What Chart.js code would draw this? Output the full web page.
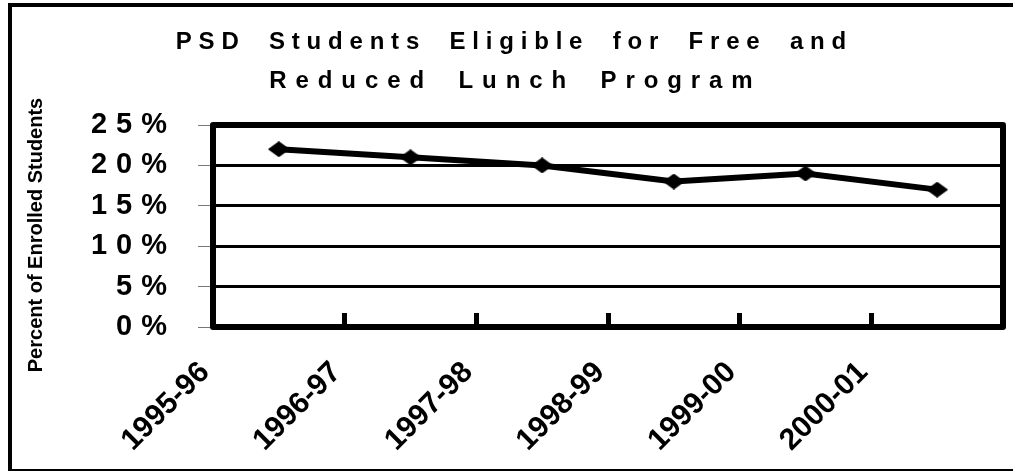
<!DOCTYPE html>
<html>
<head>
<meta charset="utf-8">
<script src="https://cdn.jsdelivr.net/npm/chart.js@4.4.1/dist/chart.umd.min.js"></script>
<style>
  html, body { margin: 0; padding: 0; background: #fff; }
</style>
</head>
<body>
<canvas id="myChart" width="1013" height="471"></canvas>
<script>
// Datos de la grafica
const categories = ['1995-96', '1996-97', '1997-98', '1998-99', '1999-00', '2000-01'];
const eligible = [22, 21, 20, 18, 19, 17];
const yTicks = [0, 5, 10, 15, 20, 25];
const titleLines = ['PSD Students Eligible for Free and', 'Reduced Lunch Program'];
const yTitle = 'Percent of Enrolled Students';

const FONT = '"Liberation Sans", Arial, sans-serif';

// escala lineal con letras espaciadas (etiquetas "2 5 %")
class SpacedLinearScale extends Chart.LinearScale {
  drawLabels(chartArea) {
    const ctx = this.ctx;
    ctx.save();
    ctx.letterSpacing = '9px';
    super.drawLabels(chartArea);
    ctx.restore();
  }
  // el titulo del eje va un poco mas abajo que el centro
  drawTitle() {
    const ctx = this.ctx;
    ctx.save();
    ctx.translate(0, 9);
    super.drawTitle();
    ctx.restore();
  }
}
SpacedLinearScale.id = 'spacedLinear';
SpacedLinearScale.defaults = Chart.LinearScale.defaults;
Chart.register(SpacedLinearScale);

// marcador rombo (mas ancho que alto)
const diamond = document.createElement('canvas');
diamond.width = 22;
diamond.height = 16;
const dctx = diamond.getContext('2d');
dctx.beginPath();
dctx.moveTo(0, 8);
dctx.lineTo(11, 0);
dctx.lineTo(22, 8);
dctx.lineTo(11, 16);
dctx.closePath();
dctx.fill();

// marco exterior + fondo blanco
const outerFrame = {
  id: 'outerFrame',
  beforeDraw(chart) {
    const ctx = chart.ctx;
    ctx.save();
    ctx.fillStyle = '#fff';
    ctx.fillRect(0, 0, chart.width, chart.height);
    ctx.strokeStyle = '#000';
    ctx.lineWidth = 4;
    ctx.strokeRect(10, 5, chart.width + 10, chart.height - 5);
    ctx.restore();
  },
};

// marco grueso del area de la grafica
const plotFrame = {
  id: 'plotFrame',
  beforeDatasetsDraw(chart) {
    const {ctx, chartArea: a} = chart;
    ctx.save();
    ctx.strokeStyle = '#000';
    ctx.lineWidth = 6;
    ctx.lineJoin = 'round';
    ctx.strokeRect(a.left, a.top, a.right - a.left, a.bottom - a.top);
    ctx.restore();
  },
};

// titulo con letras espaciadas (cada linea con su espaciado)
const titleSpacing = [6.8, 8.9];
const spacedTitle = {
  id: 'spacedTitle',
  afterDraw(chart) {
    const ctx = chart.ctx;
    ctx.save();
    ctx.font = 'bold 24px ' + FONT;
    ctx.wordSpacing = '10px';
    ctx.fillStyle = '#000';
    ctx.textAlign = 'center';
    ctx.textBaseline = 'alphabetic';
    titleLines.forEach((line, i) => {
      ctx.letterSpacing = titleSpacing[i] + 'px';
      ctx.fillText(line, 511 + titleSpacing[i] / 2, 49 + i * 38.5);
    });
    ctx.restore();
  },
};

const data = {
  labels: categories,
  datasets: [{
    label: 'Eligible',
    data: eligible,
    borderColor: '#000',
    backgroundColor: '#000',
    borderWidth: 6,
    tension: 0,
    pointStyle: diamond,
  }],
};

const config = {
  type: 'line',
  data: data,
  options: {
    responsive: false,
    animation: false,
    layout: { padding: { left: 12, top: 125, right: 4, bottom: 0 } },
    plugins: {
      legend: { display: false },
      tooltip: { enabled: false },
      title: { display: false },
    },
    scales: {
      x: {
        type: 'category',
        offset: true,
        afterFit: (s) => { s.height = 144; },
        border: { display: false },
        grid: {
          offset: true,
          drawOnChartArea: false,
          tickLength: -14,
          tickWidth: 5,
          tickColor: '#000',
        },
        ticks: {
          color: '#000',
          font: { family: FONT, size: 30, weight: 'bold' },
          maxRotation: 45,
          minRotation: 45,
          autoSkip: false,
          padding: 42,
          labelOffset: -74,
        },
      },
      y: {
        type: 'spacedLinear',
        min: yTicks[0],
        max: yTicks[yTicks.length - 1],
        afterBuildTicks: (s) => { s.ticks = yTicks.map(v => ({ value: v })); },
        afterFit: (s) => { s.width = 201; },
        border: { display: false },
        grid: {
          color: '#000',
          lineWidth: 3,
          tickColor: '#777',
          tickWidth: 1,
          tickLength: 15,
        },
        ticks: {
          color: '#000',
          font: { family: FONT, size: 29, weight: 'bold' },
          padding: 22,
          callback: (v) => v + '%',
        },
        title: {
          display: true,
          text: yTitle,
          color: '#000',
          font: { family: FONT, size: 20, weight: 'bold' },
          padding: { top: 12, bottom: 0 },
        },
      },
    },
  },
  plugins: [outerFrame, plotFrame, spacedTitle],
};

const myChart = new Chart(
    document.getElementById('myChart'),
    config,
);
</script>
</body>
</html>
